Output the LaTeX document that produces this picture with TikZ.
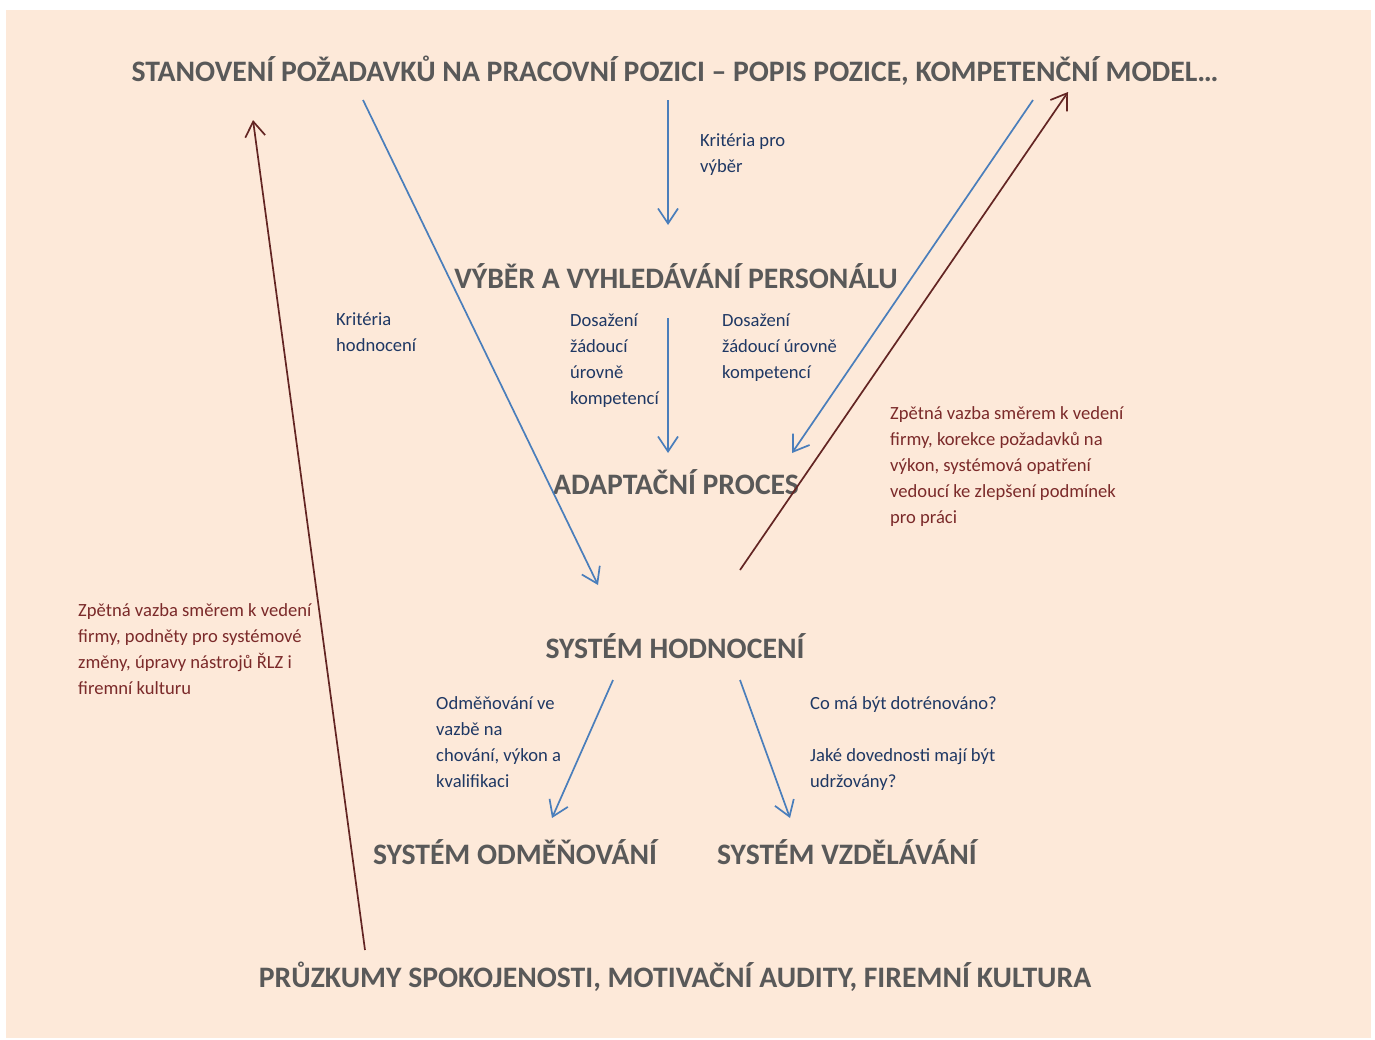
\documentclass[tikz,border=0pt]{standalone}
\usepackage{fontspec}
\setmainfont{Carlito}
\usetikzlibrary{arrows.meta}
\definecolor{bgpeach}{HTML}{FDE9D9}
\definecolor{headgray}{HTML}{595959}
\definecolor{navytext}{HTML}{1F3864}
\definecolor{redtext}{HTML}{7B2A2A}
\definecolor{bluearrow}{HTML}{4A7EBB}
\definecolor{redarrow}{HTML}{632523}
\tikzset{
  heading/.style={font=\fontsize{29.7}{34}\selectfont\bfseries, text=headgray, inner sep=0pt},
  bluelabel/.style={font=\fontsize{18.6}{26}\selectfont, text=navytext, align=left, anchor=north west, inner sep=0pt},
  redlabel/.style={font=\fontsize{18.6}{26}\selectfont, text=redtext, align=left, anchor=north west, inner sep=0pt},
  bluearr/.style={draw=bluearrow, line width=1.7pt, -{Straight Barb[length=15pt,width=20pt,line width=1.7pt]}},
  redarr/.style={draw=redarrow, line width=1.7pt, -{Straight Barb[length=15pt,width=20pt,line width=1.7pt]}},
}
\begin{document}
\begin{tikzpicture}[x=1pt,y=-1pt]
\useasboundingbox (0,0) rectangle (1375,1039);
\fill[white] (0,0) rectangle (1375,1039);
\fill[bgpeach] (6,10) rectangle (1371,1038);

% headings
\node[heading] (pozadavky) at (675,71) {STANOVENÍ POŽADAVKŮ NA PRACOVNÍ POZICI – POPIS POZICE, KOMPETENČNÍ MODEL…};
\node[heading] (vyber) at (676,276) {VÝBĚR A VYHLEDÁVÁNÍ PERSONÁLU};
\node[heading] (adaptace) at (676,482) {ADAPTAČNÍ PROCES};
\node[heading] (hodnoceni) at (675,646) {SYSTÉM HODNOCENÍ};
\node[heading] (odmenovani) at (515,852) {SYSTÉM ODMĚŇOVÁNÍ};
\node[heading] (vzdelavani) at (847,852) {SYSTÉM VZDĚLÁVÁNÍ};
\node[heading] (pruzkumy) at (675,977) {PRŮZKUMY SPOKOJENOSTI, MOTIVAČNÍ AUDITY, FIREMNÍ KULTURA};

% labels
\node[bluelabel] (krvyber) at (700,128) {\strut Kritéria pro\\výběr};
\node[bluelabel] (krhodn) at (336,307) {\strut Kritéria\\hodnocení};
\node[bluelabel] (dosaz1) at (570,308) {\strut Dosažení\\žádoucí\\úrovně\\kompetencí};
\node[bluelabel] (dosaz2) at (722,308) {\strut Dosažení\\žádoucí úrovně\\kompetencí};
\node[redlabel] (zpetna1) at (890,401) {\strut Zpětná vazba směrem k vedení\\firmy, korekce požadavků na\\výkon, systémová opatření\\vedoucí ke zlepšení podmínek\\pro práci};
\node[redlabel] (zpetna2) at (78,598) {\strut Zpětná vazba směrem k vedení\\firmy, podněty pro systémové\\změny, úpravy nástrojů ŘLZ i\\firemní kulturu};
\node[bluelabel] (odmlabel) at (436,691) {\strut Odměňování ve\\vazbě na\\chování, výkon a\\kvalifikaci};
\node[bluelabel] (vzdlabel) at (810,691) {\strut Co má být dotrénováno?\\[26pt]Jaké dovednosti mají být\\udržovány?};

% arrow endpoints
\coordinate (a1s) at (668,100);  \coordinate (a1e) at (668,225);
\coordinate (a2s) at (668,318);  \coordinate (a2e) at (668,453);
\coordinate (a3s) at (363,100);  \coordinate (a3e) at (598,585);
\coordinate (a4s) at (1033,100); \coordinate (a4e) at (792,453);
\coordinate (a5s) at (740,570);  \coordinate (a5e) at (1068,92);
\coordinate (a6s) at (365,950);  \coordinate (a6e) at (253,120);
\coordinate (a7s) at (613,680);  \coordinate (a7e) at (552,818);
\coordinate (a8s) at (740,680);  \coordinate (a8e) at (790,818);

\draw[bluearr] (a1s) -- (a1e);
\draw[bluearr] (a2s) -- (a2e);
\draw[bluearr] (a3s) -- (a3e);
\draw[bluearr] (a4s) -- (a4e);
\draw[redarr] (a5s) -- (a5e);
\draw[redarr] (a6s) -- (a6e);
\draw[bluearr] (a7s) -- (a7e);
\draw[bluearr] (a8s) -- (a8e);
\end{tikzpicture}
\end{document}
